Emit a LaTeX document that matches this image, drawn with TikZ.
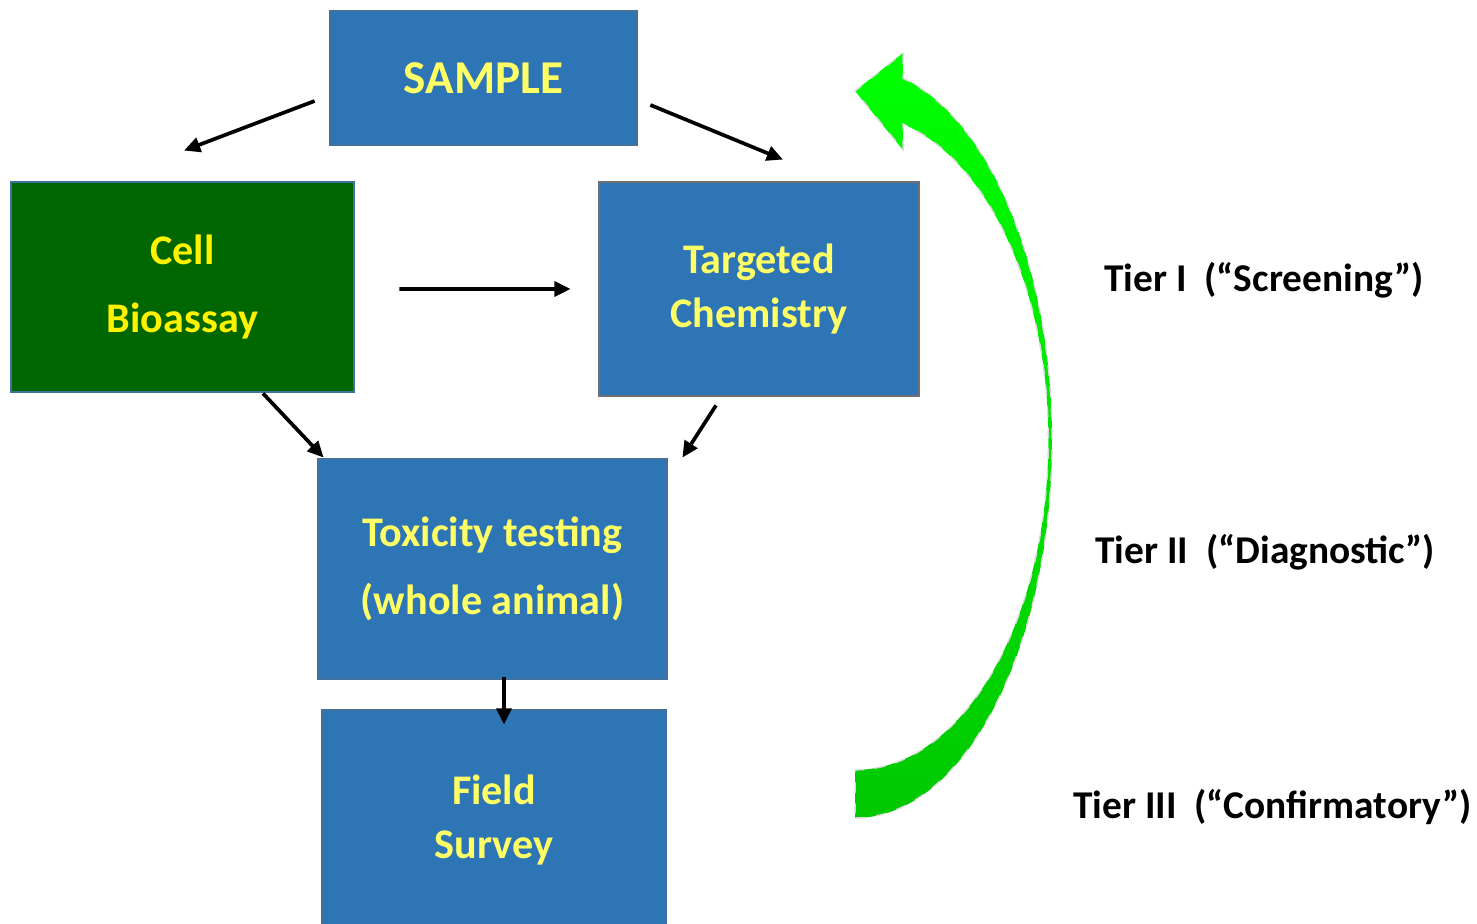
\documentclass[tikz,border=0pt]{standalone}
\usepackage{fontspec}
\setmainfont{Carlito}
\usetikzlibrary{arrows.meta,calc}
\definecolor{boxBlue}{RGB}{46,117,182}
\definecolor{boxBlueLine}{RGB}{65,113,156}
\definecolor{boxGreen}{RGB}{0,102,0}
\definecolor{boxGrey}{RGB}{112,112,112}
\definecolor{txtYellow}{RGB}{255,255,102}
\definecolor{loopTop}{RGB}{0,255,0}
\definecolor{loopBot}{RGB}{0,200,0}

\begin{document}
\begin{tikzpicture}[
  font=\bfseries,
  bbox/.style={draw=boxBlueLine, line width=0.8pt, fill=boxBlue, text=txtYellow, align=center, inner sep=0pt, font=\fontsize{12}{15.4}\selectfont\bfseries},
  gbox/.style={bbox, fill=boxGreen, text=yellow},
  arr/.style={-{Triangle[length=4.6pt, width=4.2pt]}, line width=1.05pt},
  tier/.style={font=\fontsize{11.2}{13}\selectfont\bfseries, anchor=center},
]
\useasboundingbox (0,0) rectangle (14.77,9.24);

% ======================= boxes =======================
\node[bbox, minimum width=3.07cm, minimum height=1.34cm, font=\fontsize{13.4}{16}\selectfont\bfseries] (sample) at (4.835,8.46) {SAMPLE};
\node[gbox, minimum width=3.43cm, minimum height=2.10cm] (cell) at (1.825,6.37) {Cell\\[3.8pt] Bioassay};
\node[bbox, draw=boxGrey, minimum width=3.20cm, minimum height=2.14cm] (chem) at (7.59,6.35) {Targeted\\ Chemistry};
\node[bbox, minimum width=3.49cm, minimum height=2.20cm] (tox) at (4.925,3.55) {Toxicity testing\\[3.8pt] (whole animal)};
\node[bbox, minimum width=3.44cm, minimum height=2.20cm] (field) at (4.94,1.04) {Field\\ Survey};

% ======================= arrows =======================
\draw[arr] ([xshift=-0.14cm,yshift=-0.23cm]sample.west) -- ([xshift=0.015cm,yshift=0.30cm]cell.north);
\draw[arr] ([xshift=0.12cm,yshift=-0.27cm]sample.east) -- ([xshift=0.24cm,yshift=0.21cm]chem.north);
\draw[arr] ([xshift=0.44cm,yshift=-0.02cm]cell.east) -- ([xshift=-0.27cm]chem.west);
\draw[arr] ([xshift=0.805cm]cell.south) -- ([xshift=0.07cm]tox.north west);
\draw[arr] ([xshift=-0.43cm,yshift=-0.08cm]chem.south) -- ([xshift=0.14cm]tox.north east);
\draw[arr] ([xshift=0.115cm,yshift=0.03cm]tox.south) -- ([xshift=0.10cm,yshift=-0.16cm]field.north);

% ======================= tier loop =======================
\shadedraw[top color=loopTop, bottom color=loopBot, draw=black!15, dashed, line width=0.4pt]
  (8.55,1.06) arc[start angle=-90, end angle=0, x radius=1.97, y radius=3.78]
  arc[start angle=0, end angle=75.9, x radius=1.97, y radius=3.73]
  -- (9.03,8.71) -- (8.55,8.33) -- (9.03,7.74) -- (9.03,8.00)
  arc[start angle=75.7, end angle=0, x radius=1.93, y radius=3.26]
  arc[start angle=0, end angle=-90, x radius=1.93, y radius=3.30]
  -- cycle;

\node[tier] (t1) at (12.64,6.44) {Tier I\ \ (“Screening”)};
\node[tier] (t2) at (12.65,3.72) {Tier II\ \ (“Diagnostic”)};
\node[tier] (t3) at (12.725,1.17) {Tier III\ \ (“Confirmatory”)};

\end{tikzpicture}
\end{document}
